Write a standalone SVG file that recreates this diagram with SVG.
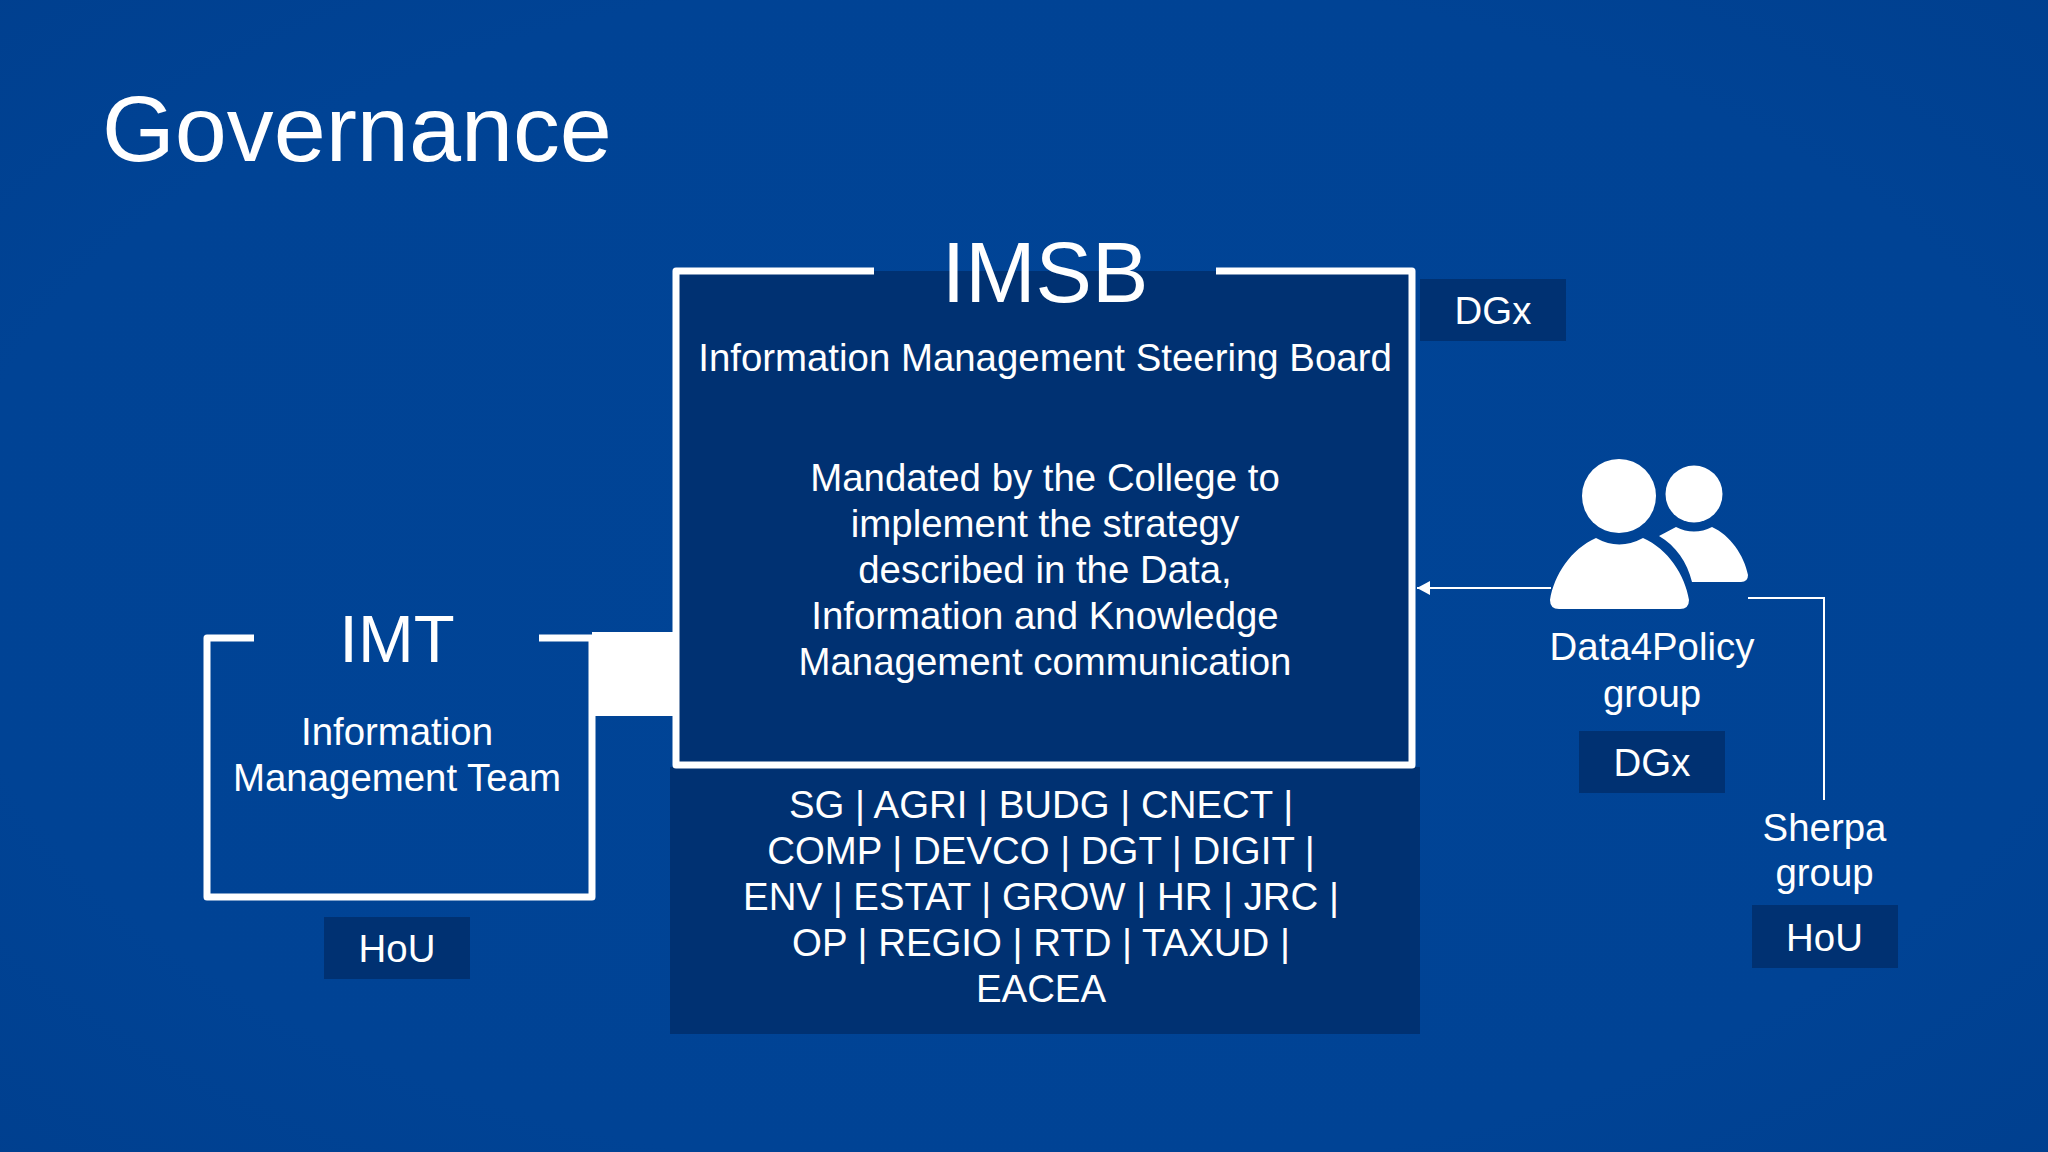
<svg xmlns="http://www.w3.org/2000/svg" width="2048" height="1152" viewBox="0 0 2048 1152">
<style>
text{font-family:"Liberation Sans",Arial,sans-serif;fill:#fff;text-anchor:middle;font-size:38.4px}
.panel{fill:#003172}
.box{fill:none;stroke:#fff;stroke-width:7;stroke-linejoin:round;stroke-linecap:butt}
.thin{fill:none;stroke:#fff;stroke-width:2}
</style>
<defs>
<radialGradient id="bg" cx="50%" cy="50%" r="75%"><stop offset="0" stop-color="#004496"/><stop offset=".7" stop-color="#004395"/><stop offset="1" stop-color="#003f8e"/></radialGradient>
<marker id="arr" markerUnits="userSpaceOnUse" markerWidth="13" markerHeight="14" refX="13" refY="7" orient="auto"><path d="M0 0L13 7L0 14Z" fill="#fff"/></marker>
</defs>
<rect width="2048" height="1152" fill="url(#bg)"/>
<text id="title" x="102" y="161" style="font-size:93.6px;text-anchor:start">Governance</text>
<g id="connectors">
<rect x="592" y="632" width="88" height="84" fill="#fff"/>
<path class="thin" d="M1551 588H1417" marker-end="url(#arr)"/>
<path class="thin" d="M1748 598H1824V800"/>
</g>
<g id="imt">
<path class="box" d="M254 638H207V897H592V638H539"/>
<text x="397" y="662" style="font-size:67px">IMT</text>
<text x="397" y="745">Information</text>
<text x="397" y="791">Management Team</text>
</g>
<g id="imt-hou"><rect class="panel" x="324" y="917" width="146" height="62"/><text x="397" y="962">HoU</text></g>
<g id="imsb-members">
<rect class="panel" x="670" y="767" width="750" height="267"/>
<text x="1041" y="818">SG | AGRI | BUDG | CNECT |</text>
<text x="1041" y="864">COMP | DEVCO | DGT | DIGIT |</text>
<text x="1041" y="910">ENV | ESTAT | GROW | HR | JRC |</text>
<text x="1041" y="956">OP | REGIO | RTD | TAXUD |</text>
<text x="1041" y="1002">EACEA</text>
</g>
<g id="imsb">
<rect class="panel" x="676" y="271" width="736" height="494"/>
<path class="box" d="M874 271H676V765H1412V271H1216"/>
<text x="1045" y="302" style="font-size:84.5px">IMSB</text>
<text x="1045" y="371">Information Management Steering Board</text>
<text x="1045" y="491">Mandated by the College to</text>
<text x="1045" y="537">implement the strategy</text>
<text x="1045" y="583">described in the Data,</text>
<text x="1045" y="629">Information and Knowledge</text>
<text x="1045" y="675">Management communication</text>
</g>
<g id="imsb-dgx"><rect class="panel" x="1420" y="279" width="146" height="62"/><text x="1493" y="324">DGx</text></g>
<g id="data4policy">
<circle cx="1619" cy="496" r="37" fill="#fff"/>
<circle cx="1694" cy="494" r="28.5" fill="#fff"/>
<path fill="#fff" d="M1596 538Q1619 551 1643 538C1668 549 1685 575 1689 600Q1689 609 1680 609H1559Q1550 609 1550 600C1554 575 1571 549 1596 538Z"/>
<path fill="#fff" d="M1659 536L1676 527Q1694 536 1712 527C1730 535 1744 555 1748 575Q1748 582 1741 582H1692C1687 562 1676 546 1659 536Z"/>
<text x="1652" y="660">Data4Policy</text>
<text x="1652" y="707">group</text>
</g>
<g id="d4p-dgx"><rect class="panel" x="1579" y="731" width="146" height="62"/><text x="1652" y="776">DGx</text></g>
<g id="sherpa">
<text x="1824.500" y="841">Sherpa</text>
<text x="1824.500" y="886">group</text>
</g>
<g id="sherpa-hou"><rect class="panel" x="1752" y="905" width="146" height="63"/><text x="1824.500" y="951">HoU</text></g>
</svg>
